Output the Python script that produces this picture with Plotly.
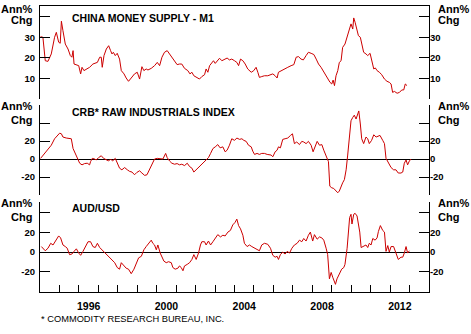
import plotly.graph_objects as go

# ---------------- data ----------------
m1_year = [1994.03, 1994.15, 1994.27, 1994.41, 1994.58, 1994.75, 1994.84, 1994.96, 1995.04, 1995.10,
           1995.18, 1995.30, 1995.44, 1995.56, 1995.64, 1995.70, 1995.75, 1995.87, 1995.99, 1996.09,
           1996.16, 1996.26, 1996.38, 1996.55, 1996.72, 1996.95, 1997.07, 1997.15, 1997.20, 1997.29,
           1997.41, 1997.53, 1997.63, 1997.70, 1997.77, 1997.87, 1997.97, 1998.09, 1998.18, 1998.32,
           1998.43, 1998.55, 1998.69, 1998.86, 1999.00, 1999.12, 1999.24, 1999.34, 1999.46, 1999.55,
           1999.72, 1999.89, 2000.03, 2000.15, 2000.27, 2000.40, 2000.54, 2000.66, 2000.78, 2000.92,
           2001.05, 2001.17, 2001.29, 2001.43, 2001.60, 2001.71, 2001.81, 2001.91, 2002.08, 2002.20,
           2002.32, 2002.46, 2002.54, 2002.63, 2002.72, 2002.80, 2002.92, 2003.01, 2003.11, 2003.23,
           2003.35, 2003.49, 2003.62, 2003.74, 2003.86, 2004.00, 2004.12, 2004.21, 2004.31, 2004.43,
           2004.55, 2004.68, 2004.86, 2004.99, 2005.11, 2005.20, 2005.28, 2005.40, 2005.54, 2005.71,
           2005.85, 2005.97, 2006.09, 2006.19, 2006.26, 2006.40, 2006.57, 2006.74, 2006.91, 2007.05,
           2007.17, 2007.29, 2007.42, 2007.54, 2007.68, 2007.80, 2007.94, 2008.08, 2008.20, 2008.32,
           2008.45, 2008.59, 2008.71, 2008.79, 2008.91, 2009.00, 2009.07, 2009.14, 2009.22, 2009.31,
           2009.39, 2009.48, 2009.56, 2009.68, 2009.79, 2009.91, 2009.99, 2010.08, 2010.13, 2010.20,
           2010.30, 2010.37, 2010.47, 2010.54, 2010.64, 2010.76, 2010.85, 2010.97, 2011.07, 2011.16,
           2011.24, 2011.33, 2011.45, 2011.57, 2011.71, 2011.84, 2011.96, 2012.05, 2012.13, 2012.22,
           2012.36, 2012.48, 2012.60, 2012.70, 2012.78, 2012.87]
m1_val = [30.3, 30.0, 18.6, 18.3, 21.9, 30.0, 32.4, 27.6, 27.1, 37.8,
          33.2, 26.7, 24.3, 21.1, 20.3, 23.5, 17.0, 16.7, 16.2, 12.2,
          15.4, 13.8, 14.6, 15.4, 17.0, 17.8, 20.3, 20.3, 15.4, 21.1,
          24.3, 25.9, 23.5, 21.9, 22.7, 21.1, 22.2, 19.4, 13.8, 12.2,
          10.2, 8.6, 10.2, 12.2, 13.0, 9.7, 15.7, 13.8, 14.6, 14.1,
          14.9, 16.2, 17.8, 16.2, 20.3, 22.7, 23.5, 21.9, 20.3, 18.3,
          16.7, 17.0, 17.0, 14.9, 13.8, 12.2, 13.0, 11.3, 10.5, 9.7,
          10.9, 11.8, 14.6, 13.0, 16.2, 17.0, 18.6, 17.3, 18.6, 19.8,
          18.6, 19.4, 19.9, 19.0, 19.4, 18.6, 17.8, 16.2, 19.4, 18.6,
          17.0, 14.6, 13.0, 13.8, 15.4, 13.0, 10.5, 10.9, 11.3, 11.3,
          11.7, 12.2, 11.3, 10.2, 13.0, 13.8, 14.6, 15.4, 16.2, 16.7,
          20.3, 20.6, 19.4, 19.0, 21.1, 22.7, 22.2, 21.6, 19.4, 17.0,
          15.4, 13.0, 11.3, 9.7, 8.1, 7.3, 9.2, 6.5, 11.3, 13.8,
          17.8, 18.6, 25.1, 26.7, 30.0, 34.0, 36.5, 34.0, 39.4, 37.3,
          34.0, 30.8, 30.0, 26.7, 22.7, 21.9, 21.1, 22.2, 18.6, 14.6,
          15.1, 13.8, 13.0, 11.8, 9.7, 8.6, 8.1, 7.3, 3.2, 3.7,
          2.8, 3.2, 4.4, 4.4, 7.3, 6.5]

crb_year = [1994.03, 1994.24, 1994.41, 1994.58, 1994.75, 1994.89, 1995.01, 1995.10, 1995.18, 1995.35,
            1995.52, 1995.61, 1995.70, 1995.82, 1995.92, 1996.04, 1996.16, 1996.29, 1996.43, 1996.55,
            1996.60, 1996.69, 1996.81, 1996.89, 1997.01, 1997.15, 1997.27, 1997.39, 1997.53, 1997.63,
            1997.73, 1997.87, 1997.97, 1998.09, 1998.21, 1998.35, 1998.49, 1998.61, 1998.73, 1998.86,
            1998.98, 1999.12, 1999.24, 1999.38, 1999.50, 1999.63, 1999.75, 1999.89, 2000.03, 2000.20,
            2000.32, 2000.46, 2000.54, 2000.66, 2000.78, 2000.92, 2001.05, 2001.17, 2001.29, 2001.43,
            2001.57, 2001.69, 2001.81, 2001.91, 2002.03, 2002.15, 2002.29, 2002.41, 2002.54, 2002.66,
            2002.77, 2002.89, 2003.01, 2003.14, 2003.26, 2003.40, 2003.52, 2003.62, 2003.74, 2003.86,
            2004.00, 2004.12, 2004.26, 2004.38, 2004.48, 2004.60, 2004.72, 2004.86, 2004.94, 2005.03,
            2005.16, 2005.28, 2005.40, 2005.54, 2005.68, 2005.80, 2005.88, 2005.97, 2006.09, 2006.19,
            2006.26, 2006.36, 2006.48, 2006.60, 2006.74, 2006.88, 2006.98, 2007.08, 2007.20, 2007.34,
            2007.46, 2007.56, 2007.68, 2007.80, 2007.94, 2008.04, 2008.14, 2008.25, 2008.37, 2008.49,
            2008.59, 2008.71, 2008.83, 2008.90, 2009.00, 2009.10, 2009.19, 2009.31, 2009.39, 2009.48,
            2009.56, 2009.65, 2009.74, 2009.82, 2009.91, 2009.99, 2010.08, 2010.16, 2010.25, 2010.34,
            2010.39, 2010.47, 2010.54, 2010.64, 2010.76, 2010.85, 2010.93, 2011.05, 2011.16, 2011.28,
            2011.36, 2011.48, 2011.62, 2011.71, 2011.79, 2011.91, 2012.05, 2012.18, 2012.30, 2012.42,
            2012.56, 2012.65, 2012.73, 2012.82, 2012.90, 2012.99, 2013.08]
crb_val = [0.7, 6.2, 9.8, 15.3, 22.5, 26.2, 28.7, 28.0, 24.4, 23.3,
           23.3, 22.5, 11.6, 5.1, 0.7, -4.7, -6.5, -5.1, -4.7, -6.5,
           -2.9, 0.7, 0.0, -1.1, 1.5, 3.6, 0.7, -1.1, -2.2, 0.0,
           -2.2, 0.7, -4.7, -10.2, -12.0, -9.5, -12.0, -13.8, -14.5, -17.5,
           -14.9, -13.1, -15.6, -18.2, -17.5, -12.0, -6.5, 0.0, 0.7, 0.7,
           0.0, 6.2, 1.5, -2.2, -4.7, -5.8, -5.1, -6.5, -5.8, -7.3,
           -4.7, -8.4, -10.2, -14.5, -12.0, -10.2, -6.5, -4.7, -1.1, 1.5,
           6.2, 11.6, 13.5, 16.0, 12.4, 13.5, 8.0, 9.8, 15.3, 22.5,
           20.7, 23.3, 21.8, 22.5, 20.7, 19.6, 15.3, 13.5, 8.7, 5.1,
           6.2, 5.1, 6.2, 6.2, 5.1, 5.1, 4.4, 2.5, 8.0, 9.8,
           13.5, 12.4, 21.8, 22.5, 23.3, 26.2, 28.0, 17.1, 18.9, 16.0,
           19.6, 18.9, 17.1, 19.6, 15.3, 8.0, 13.5, 19.6, 15.3, 16.0,
           9.8, 4.4, -2.9, -30.2, -32.0, -32.7, -34.9, -37.5, -35.6, -30.2,
           -26.5, -22.9, -12.0, 4.4, 22.5, 42.5, 46.2, 48.7, 44.4, 50.9,
           53.4, 38.9, 22.5, 17.1, 24.4, 22.5, 17.1, 20.7, 26.9, 24.4,
           25.5, 26.2, 20.7, 17.1, 0.7, -4.7, -9.5, -12.0, -12.0, -15.6,
           -15.6, -14.5, -4.7, -1.1, -6.5, -2.2, 0.0]

aud_year = [1994.07, 1994.27, 1994.41, 1994.55, 1994.67, 1994.79, 1994.89, 1994.96, 1995.06, 1995.18,
            1995.30, 1995.40, 1995.52, 1995.64, 1995.75, 1995.87, 1995.99, 1996.09, 1996.21, 1996.33,
            1996.47, 1996.60, 1996.72, 1996.84, 1996.95, 1997.07, 1997.18, 1997.32, 1997.46, 1997.58,
            1997.70, 1997.84, 1997.97, 1998.09, 1998.18, 1998.32, 1998.43, 1998.55, 1998.69, 1998.83,
            1998.95, 1999.07, 1999.21, 1999.34, 1999.46, 1999.58, 1999.72, 1999.80, 1999.89, 1999.98,
            2000.06, 2000.18, 2000.27, 2000.37, 2000.49, 2000.61, 2000.75, 2000.83, 2000.95, 2001.09,
            2001.17, 2001.26, 2001.35, 2001.43, 2001.57, 2001.69, 2001.81, 2001.91, 2002.03, 2002.15,
            2002.25, 2002.32, 2002.46, 2002.54, 2002.66, 2002.77, 2002.89, 2003.01, 2003.14, 2003.28,
            2003.40, 2003.52, 2003.66, 2003.79, 2003.91, 2004.03, 2004.12, 2004.21, 2004.31, 2004.43,
            2004.51, 2004.65, 2004.77, 2004.89, 2005.03, 2005.16, 2005.28, 2005.40, 2005.54, 2005.71,
            2005.85, 2005.97, 2006.09, 2006.19, 2006.26, 2006.36, 2006.48, 2006.60, 2006.71, 2006.83,
            2006.95, 2007.08, 2007.22, 2007.34, 2007.46, 2007.56, 2007.68, 2007.80, 2007.90, 2008.02,
            2008.11, 2008.25, 2008.37, 2008.49, 2008.59, 2008.71, 2008.79, 2008.88, 2008.97, 2009.05,
            2009.14, 2009.19, 2009.27, 2009.39, 2009.51, 2009.62, 2009.68, 2009.79, 2009.86, 2009.92,
            2009.99, 2010.04, 2010.13, 2010.20, 2010.30, 2010.37, 2010.44, 2010.51, 2010.64, 2010.76,
            2010.85, 2010.93, 2011.02, 2011.11, 2011.23, 2011.33, 2011.40, 2011.50, 2011.62, 2011.71,
            2011.79, 2011.88, 2011.96, 2012.05, 2012.18, 2012.30, 2012.42, 2012.56, 2012.65, 2012.73,
            2012.82, 2012.90, 2012.99]
aud_val = [5.6, 1.3, 3.9, 8.9, 7.2, 11.2, 13.1, 16.4, 14.4, 7.2,
           5.6, 3.9, -2.6, -2.0, 0.7, 3.3, -1.0, -3.3, 0.7, 5.6,
           10.5, 10.5, 5.6, 4.6, 8.9, 4.6, 2.3, 0.0, -2.6, -5.2,
           -7.5, -10.8, -15.7, -17.4, -10.8, -14.1, -16.4, -17.4, -22.0, -17.4,
           -12.5, -5.9, -4.3, 2.3, 5.6, 8.9, 12.1, 8.9, 7.2, 2.3,
           7.2, -1.0, -4.3, -9.2, -10.8, -9.8, -10.8, -15.7, -17.4, -16.4,
           -14.1, -15.7, -19.0, -14.1, -12.5, -10.8, -7.5, -2.6, -7.5, -1.0,
           7.2, 10.5, 10.5, 7.2, 11.2, 7.2, 10.5, 13.8, 17.7, 15.4,
           17.1, 16.4, 20.3, 22.0, 27.6, 30.2, 33.5, 26.9, 23.6, 17.1,
           8.9, 5.6, 7.2, 5.6, 3.9, 2.3, 1.3, 7.2, 8.9, 7.9,
           3.9, -3.3, -5.2, -4.3, -7.5, -2.6, 0.0, -2.0, 0.7, -1.0,
           3.9, 7.2, 8.9, 12.1, 10.5, 13.8, 11.2, 17.1, 20.3, 11.2,
           17.7, 13.1, 15.4, 14.4, 12.1, 3.9, -2.6, -27.2, -20.7, -25.6,
           -30.5, -32.8, -27.2, -23.0, -17.4, -15.7, -12.5, 3.9, 25.3, 35.1,
           38.4, 28.5, 38.4, 39.4, 36.7, 28.5, 20.3, 4.6, 5.6, 7.2,
           4.6, 8.9, 7.2, 13.8, 12.1, 14.4, 21.0, 26.9, 22.0, 20.3,
           0.7, 6.6, 0.0, 5.6, 5.6, -1.0, -7.5, -5.2, -5.2, -1.0,
           5.6, -1.0, 1.3]

panel_titles = ["CHINA MONEY SUPPLY - M1", "CRB* RAW INDUSTRIALS INDEX", "AUD/USD"]
footnote = "* COMMODITY RESEARCH BUREAU, INC."
year_ticks = list(range(1995, 2014))
year_labels = ["1996", "2000", "2004", "2008", "2012"]

assert len(m1_year) == len(m1_val), (len(m1_year), len(m1_val))
assert len(crb_year) == len(crb_val), (len(crb_year), len(crb_val))
assert len(aud_year) == len(aud_val), (len(aud_year), len(aud_val))

# ---------------- layout helpers ----------------
W, H = 471, 334
def px_x(p):
    return p / W
def px_y(p):
    return 1 - p / H

RED = "#cc0000"
FAM = "Liberation Sans, Arial, Helvetica, sans-serif"
XDOM = [px_x(40), px_x(429)]
XR = [1994, 2014]

panels = [
    dict(x=m1_year, y=m1_val, top=6, bot=99, rng=[0, 45.2],
         tv=[0, 10, 20, 30, 40], tt=["", "10", "20", "30", ""], ann=43.9, chg=38.3, zero=False),
    dict(x=crb_year, y=crb_val, top=105, bot=195, rng=[-40, 60],
         tv=[-40, -20, 0, 20, 40, 60], tt=["", "-20", "0", "20", "", ""], ann=58.9, chg=42.9, zero=True),
    dict(x=aud_year, y=aud_val, top=201.5, bot=292, rng=[-40.6, 51.4],
         tv=[-20, 0, 20, 40, 51.4], tt=["-20", "0", "20", "", ""], ann=49.7, chg=35.5, zero=True),
]

fig = go.Figure()
layout = dict(
    width=W, height=H, margin=dict(l=0, r=0, t=0, b=0),
    paper_bgcolor="white", plot_bgcolor="white", showlegend=False,
    font=dict(family=FAM, color="black", size=10),
    annotations=[],
)

tickfont = dict(family=FAM, size=9.5, color="black", weight="bold")
labfont = dict(family=FAM, size=11, color="black", weight="bold")

for i, p in enumerate(panels):
    k = i + 1
    xa = "x" if k == 1 else f"x{k}"
    ya = "y" if k == 1 else f"y{k}"
    yr = f"y{k + 3}"
    fig.add_trace(go.Scatter(x=p["x"], y=p["y"], xaxis=xa, yaxis=ya, mode="lines",
                             line=dict(color=RED, width=1), hoverinfo="skip"))
    fig.add_trace(go.Scatter(x=[None], y=[None], xaxis=xa, yaxis=yr, mode="lines",
                             hoverinfo="skip"))
    dom = [px_y(p["bot"]), px_y(p["top"])]
    common = dict(domain=dom, range=p["rng"], showgrid=False, showline=True,
                  linecolor="black", linewidth=1, ticks="inside", ticklen=10,
                  tickcolor="black", tickwidth=1, tickvals=p["tv"], ticktext=p["tt"],
                  tickfont=tickfont, fixedrange=True)
    layout[("yaxis" if k == 1 else f"yaxis{k}")] = dict(
        common, anchor=xa, side="left", zeroline=p["zero"], zerolinecolor="black",
        zerolinewidth=1, ticklabelstandoff=2)
    layout[f"yaxis{k + 3}"] = dict(
        common, anchor=xa, side="right", overlaying=ya, zeroline=False, ticklabelstandoff=-2)

    xcommon = dict(domain=XDOM, range=XR, showgrid=False, zeroline=False, fixedrange=True)
    if k == 1:
        layout["xaxis"] = dict(xcommon, anchor="y", side="top", showline=True, linecolor="black",
                               linewidth=1, ticks="", showticklabels=False)
    elif k == 2:
        layout["xaxis2"] = dict(xcommon, anchor="y2", showline=False, ticks="",
                                showticklabels=False)
    else:
        layout["xaxis3"] = dict(xcommon, anchor="y3", side="bottom", showline=True,
                                linecolor="black", linewidth=1, ticks="inside", ticklen=7,
                                tickcolor="black", tickvals=year_ticks, showticklabels=False)

    for txt, yv in (("Ann%", p["ann"]), ("Chg", p["chg"])):
        layout["annotations"].append(dict(text=txt, xref="paper", yref=ya, x=px_x(34), y=yv,
                                          xanchor="right", yanchor="middle", showarrow=False,
                                          font=labfont))
        layout["annotations"].append(dict(text=txt, xref="paper", yref=ya, x=px_x(436), y=yv,
                                          xanchor="left", yanchor="middle", showarrow=False,
                                          font=labfont))

fig.add_trace(go.Scatter(x=[None], y=[None], xaxis="x4", yaxis="y3", hoverinfo="skip"))
layout["xaxis4"] = dict(domain=XDOM, range=XR, overlaying="x3", anchor="y3", side="bottom",
                        showgrid=False, zeroline=False, showline=False, ticks="",
                        tickvals=[int(s) + 0.5 for s in year_labels], ticktext=year_labels,
                        tickfont=dict(family=FAM, size=10.5, color="black", weight="bold"),
                        ticklabelstandoff=6, fixedrange=True)

title_y = [17.7, 112.3, 207.7]
for t, yy in zip(panel_titles, title_y):
    layout["annotations"].append(dict(text=t, xref="paper", yref="paper", x=px_x(69.5),
                                      y=px_y(yy), xanchor="left", yanchor="middle",
                                      showarrow=False,
                                      font=dict(family=FAM, size=10.5, color="black",
                                                weight="bold")))
layout["annotations"].append(dict(text=footnote, xref="paper", yref="paper", x=px_x(39),
                                  y=px_y(318.5), xanchor="left", yanchor="middle",
                                  showarrow=False,
                                  font=dict(family=FAM, size=9.3, color="black")))

fig.update_layout(**layout)
fig.write_html("out.html", config=dict(displayModeBar=False, staticPlot=True))
